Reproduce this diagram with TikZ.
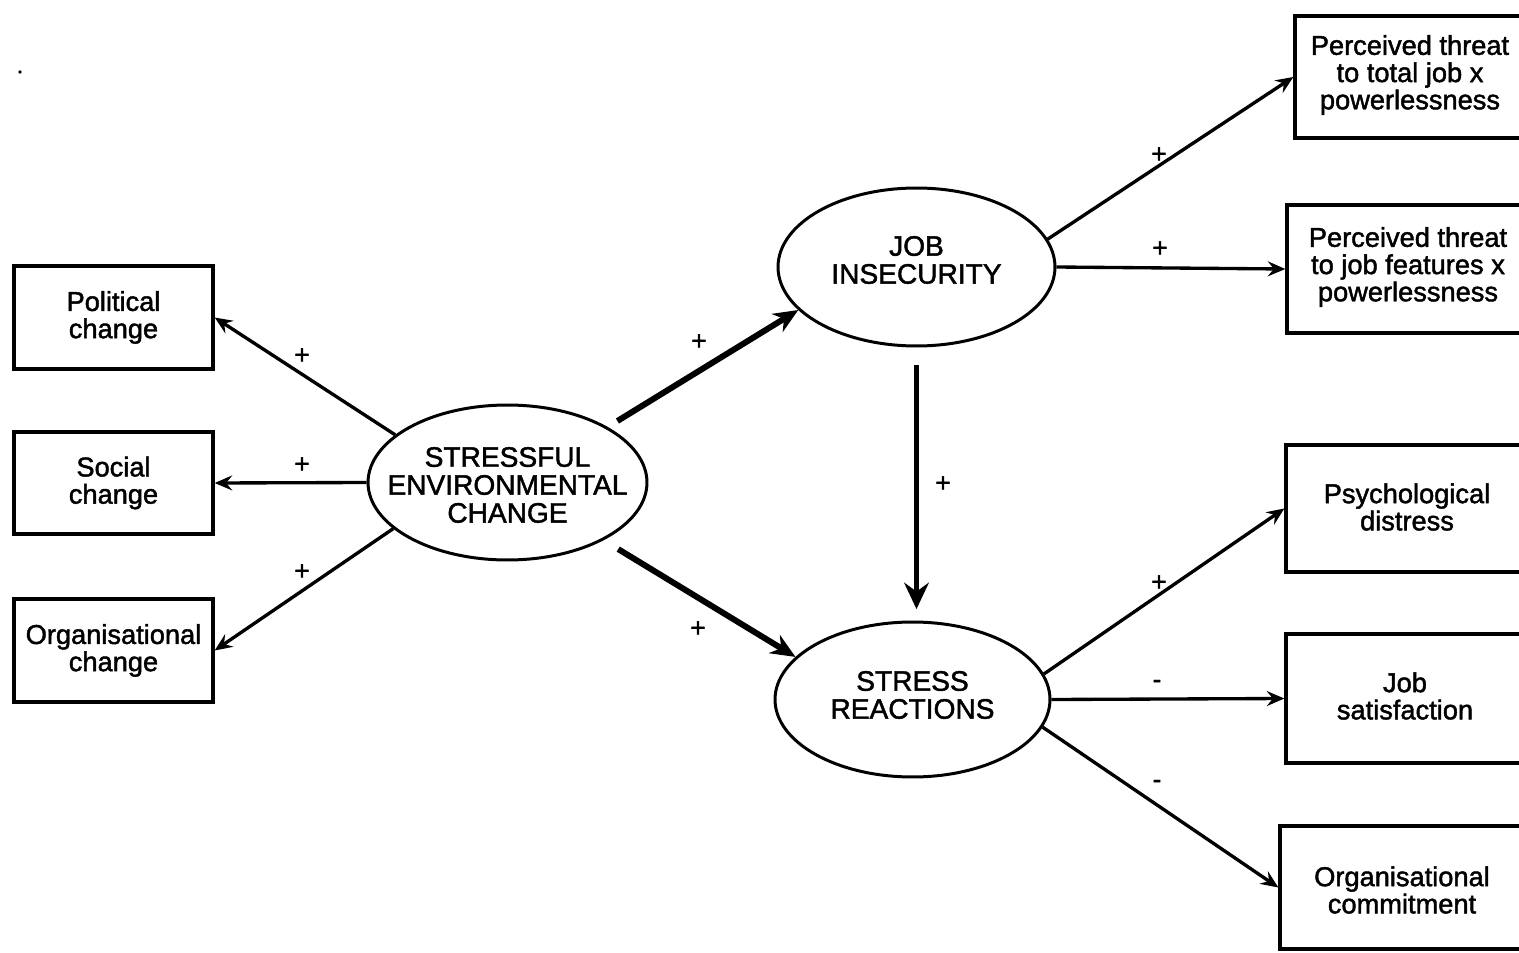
\documentclass[tikz,border=0pt]{standalone}
\usepackage{fontspec}
\setmainfont{Liberation Sans}[FakeBold=1.6]
\usetikzlibrary{arrows.meta,shapes.geometric}
\begin{document}
\begin{tikzpicture}[x=0.02cm,y=-0.02cm,
  box/.style={draw, line width=1.9pt, rectangle, inner sep=0pt},
  txt/.style={font=\fontsize{15.5}{15.5}\selectfont, align=center, inner sep=0pt},
  captxt/.style={font=\fontsize{16}{15.9}\selectfont, align=center, inner sep=0pt},
  ell/.style={draw, line width=1.7pt, ellipse, inner sep=0pt},
  sign/.style={font=\fontsize{15}{15}\selectfont, inner sep=0pt},
  thinarrow/.style={line width=1.9pt, -{Stealth[length=10pt,width=8.5pt,inset=3.5pt]}},
  thickarrow/.style={line width=3.4pt, -{Stealth[length=14pt,width=12pt,inset=4.5pt]}},
]
\useasboundingbox (0,0) rectangle (1519,953);
\fill[white] (0,0) rectangle (1519,953);
\clip (0,0) rectangle (1519,953);

% stray dot
\fill (20,72) circle[radius=1pt];

% left boxes
\node[box, txt, minimum width=3.98cm, minimum height=2.06cm] (pol) at (113.5,317.5) {Political\\change};
\node[box, txt, minimum width=3.98cm, minimum height=2.04cm] (soc) at (113.5,483) {Social\\change};
\node[box, txt, minimum width=3.98cm, minimum height=2.06cm] (org) at (113.5,650.5) {Organisational\\change};

% ellipses
\node[ell, minimum width=5.58cm, minimum height=3.1cm] (sec) at (507.5,482.5) {};
\node[captxt] (sect) at (507.5,485) {STRESSFUL\\ENVIRONMENTAL\\CHANGE};
\node[ell, minimum width=5.54cm, minimum height=3.16cm] (ji) at (916.5,267) {};
\node[captxt] (jit) at (916.5,260) {JOB\\INSECURITY};
\node[ell, minimum width=5.5cm, minimum height=3.1cm] (sr) at (912.5,699.5) {};
\node[captxt] (srt) at (912.5,695) {STRESS\\REACTIONS};

% right boxes
\node[box, minimum width=4.7cm, minimum height=2.44cm] (thr1) at (1412.5,77) {};
\node[txt] (thr1t) at (1410,75) {Perceived threat\\to total job x\\powerlessness};
\node[box, minimum width=4.86cm, minimum height=2.56cm] (thr2) at (1408.5,269) {};
\node[txt] (thr2t) at (1408,267) {Perceived threat\\to job features x\\powerlessness};
\node[box, minimum width=4.88cm, minimum height=2.54cm] (psy) at (1408,508.5) {};
\node[txt] (psyt) at (1407,507) {Psychological\\distress};
\node[box, minimum width=4.88cm, minimum height=2.58cm] (jsat) at (1408,698.5) {};
\node[txt] (jsatt) at (1405,696) {Job\\satisfaction};
\node[box, minimum width=5cm, minimum height=2.46cm] (ocom) at (1405,887.5) {};
\node[txt] (ocomt) at (1402,890) {Organisational\\commitment};

% connectors from SEC
\draw[thinarrow] (sec.157.6) -- (pol.east);
\draw[thinarrow] (sec.west) -- (soc.east);
\draw[thinarrow] (sec.202.8) -- (org.east);
\draw[thickarrow, shorten <=6.5pt] (sec.29) -- (ji.200);
\draw[thickarrow, shorten <=9.7pt] (sec.-31) -- (sr.160);

% JI to SR
\draw[line width=3.4pt, -{Stealth[length=15pt,width=14pt,inset=5pt]}, shorten <=9.7pt, shorten >=6.5pt] (ji.south) -- (ji.south |- sr.north);

% JI outputs
\draw[thinarrow] (ji.12) -- (thr1.west);
\draw[thinarrow] (ji.east) -- (thr2.west);

% SR outputs
\draw[thinarrow] (sr.11) -- (psy.west);
\draw[thinarrow] (sr.east) -- (jsat.west);
\draw[thinarrow] (sr.-12) -- (ocom.west);

% signs
\node[sign] (s1) at (302,356) {+};
\node[sign] (s2) at (302,465) {+};
\node[sign] (s3) at (302,572) {+};
\node[sign] (s4) at (699,342) {+};
\node[sign] (s5) at (698,629) {+};
\node[sign] (s6) at (943,484) {+};
\node[sign] (s7) at (1159,155) {+};
\node[sign] (s8) at (1160,249) {+};
\node[sign] (s9) at (1159,583) {+};
\node[sign] (s10) at (1157,684) {-};
\node[sign] (s11) at (1157,784) {-};
\end{tikzpicture}
\end{document}
